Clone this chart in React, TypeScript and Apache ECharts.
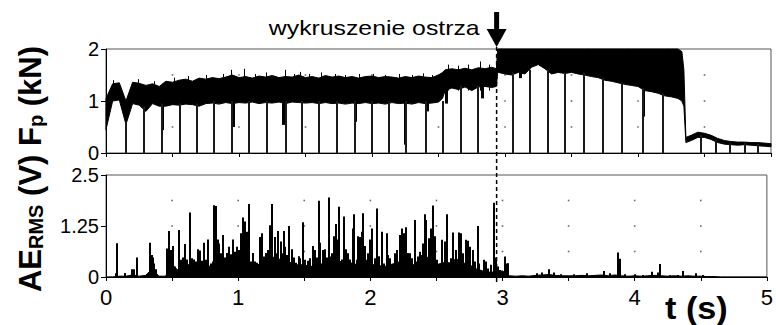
import React, { useEffect, useRef } from 'react';
import * as echarts from 'echarts';

const FONT = "'Liberation Sans', Arial, Helvetica, sans-serif";

// ---- axis ticks / grid dots ----
const dotT = [0.5, 1, 1.5, 2, 2.5, 3, 3.5, 4, 4.5];
const dotF = [0.5, 1, 1.5];
const dotAE = [0.625, 1.25, 1.875];

// ---- event ----
const EVENT_T = 2.937;
const EVENT_LABEL = 'wykruszenie ostrza';

// ---- cutting force Fp (kN): band envelope ----
const bandT = [
  0, 0.05, 0.1, 0.15, 0.2, 0.25, 0.3, 0.35, 0.4, 0.45,
  0.5, 0.55, 0.6, 0.65, 0.7, 0.75, 0.8, 0.85, 0.9, 0.95,
  1.0, 1.05, 1.1, 1.15, 1.2, 1.25, 1.3, 1.35, 1.4, 1.45,
  1.5, 1.55, 1.6, 1.65, 1.7, 1.75, 1.8, 1.85, 1.9, 1.95,
  2.0, 2.05, 2.1, 2.15, 2.2, 2.25, 2.3, 2.35, 2.4, 2.45,
  2.5, 2.53, 2.55, 2.6, 2.65, 2.7, 2.75, 2.8, 2.85, 2.9, 2.935,
  2.945, 2.95, 3.0, 3.05, 3.1, 3.15, 3.2, 3.25, 3.3, 3.35, 3.4, 3.45,
  3.5, 3.55, 3.6, 3.65, 3.7, 3.75, 3.8, 3.85, 3.9, 3.95,
  4.0, 4.05, 4.1, 4.15, 4.2, 4.25, 4.3, 4.33, 4.345, 4.36,
  4.4, 4.45, 4.5, 4.55, 4.6, 4.65, 4.7, 4.75, 4.8, 4.85, 4.9, 4.95, 5.0,
];
const bandLo = [
  0.45, 1.0, 1.02, 0.55, 0.95, 0.92, 0.8, 0.95, 0.9, 0.9,
  0.93, 0.92, 0.94, 0.93, 0.9, 0.95, 0.96, 0.94, 0.97, 0.95,
  0.97, 0.96, 0.98, 0.95, 0.97, 0.96, 0.98, 0.95, 0.98, 0.97,
  0.96, 0.97, 0.95, 0.97, 0.95, 0.96, 0.94, 0.96, 0.95, 0.97,
  0.95, 0.96, 0.94, 0.97, 0.95, 0.96, 0.94, 0.97, 0.95, 0.96,
  0.98, 1.05, 1.2, 1.25, 1.22, 1.27, 1.2, 1.27, 1.28, 1.26, 1.28,
  1.55, 1.55, 1.52, 1.5, 1.55, 1.52, 1.65, 1.7, 1.62, 1.52, 1.55, 1.53,
  1.55, 1.52, 1.5, 1.47, 1.45, 1.4, 1.38, 1.35, 1.32, 1.3,
  1.28, 1.2, 1.18, 1.15, 1.1, 1.08, 1.05, 1.0, 0.9, 0.2,
  0.24, 0.3, 0.3, 0.26, 0.2, 0.17, 0.16, 0.15, 0.16, 0.15, 0.14, 0.13, 0.12,
];
const bandHi = [
  1.05, 1.33, 1.35, 1.0, 1.36, 1.34, 1.3, 1.33, 1.28, 1.38,
  1.36, 1.4, 1.42, 1.38, 1.44, 1.42, 1.45, 1.43, 1.46, 1.5,
  1.45, 1.47, 1.44, 1.48, 1.46, 1.49, 1.45, 1.47, 1.46, 1.5,
  1.45, 1.47, 1.44, 1.49, 1.46, 1.48, 1.45, 1.47, 1.44, 1.47,
  1.48, 1.45, 1.47, 1.46, 1.44, 1.47, 1.45, 1.48, 1.46, 1.45,
  1.5, 1.55, 1.6, 1.62, 1.6, 1.63, 1.6, 1.64, 1.62, 1.65, 1.62,
  2.0, 2.0, 2.0, 2.0, 2.0, 2.0, 2.0, 2.0, 2.0, 2.0, 2.0, 2.0,
  2.0, 2.0, 2.0, 2.0, 2.0, 2.0, 2.0, 2.0, 2.0, 2.0,
  2.0, 2.0, 2.0, 2.0, 2.0, 2.0, 2.0, 1.95, 1.6, 0.3,
  0.34, 0.4, 0.38, 0.34, 0.28, 0.24, 0.22, 0.21, 0.21, 0.2, 0.2, 0.19, 0.18,
];

// ---- Fp noise peaks above the band ----
const fpPeakT = [
  0.055, 0.24, 0.36, 0.51, 0.62, 0.75, 0.88, 0.94, 1.04, 1.12,
  1.2, 1.346, 1.41, 1.458, 1.53, 1.614, 1.722, 1.8, 1.9, 2.01,
  2.1, 2.2, 2.3, 2.38, 2.45, 2.573, 2.65, 2.72, 2.81, 2.88,
];
const fpPeakV = [
  1.4, 1.42, 1.38, 1.45, 1.48, 1.5, 1.52, 1.6, 1.62, 1.52,
  1.55, 1.6, 1.52, 1.56, 1.52, 1.55, 1.52, 1.5, 1.52, 1.52,
  1.5, 1.52, 1.5, 1.53, 1.5, 1.7, 1.68, 1.7, 1.76, 1.7,
];
// ---- Fp deep notches below the band ----
const fpNotchT = [0.421, 0.957, 1.333, 1.872, 2.248, 2.41, 2.56, 2.83, 3.11, 4.04];
const fpNotchV = [0.44, 0.5, 0.54, 0.6, 0.16, 0.8, 0.95, 1.05, 1.44, 0.7];
const fpNotchFrom = [1.0, 1.0, 1.0, 1.0, 1.0, 1.0, 1.25, 1.3, 1.55, 1.3];

// ---- force drops (one per tool pass) ----
const dipT = [
  0.15, 0.286, 0.421, 0.556, 0.684,
  0.812, 0.947, 1.075, 1.211, 1.353,
  1.474, 1.602, 1.737, 1.872, 2.0,
  2.128, 2.256, 2.406, 2.534, 2.669,
  2.797, 3.06, 3.188, 3.323, 3.451,
  3.594, 3.737, 3.88, 4.038, 4.188,
  4.474, 4.586, 4.692, 4.805, 4.902,
];
const dipTop = [
  0.6, 0.9, 0.95, 0.95, 0.95,
  1.0, 1.0, 1.0, 1.0, 1.0,
  1.0, 1.0, 1.0, 1.0, 1.0,
  1.0, 1.0, 1.0, 1.0, 1.3,
  1.3, 1.55, 1.6, 1.6, 1.55,
  1.55, 1.45, 1.35, 1.25, 1.15,
  0.35, 0.25, 0.2, 0.2, 0.18,
];

// ---- AE RMS (V): dense base level ----
const aeBaseT = [
  0, 0.05, 0.1, 0.15, 0.2, 0.25, 0.3, 0.35, 0.4, 0.45,
  0.5, 0.55, 0.6, 0.65, 0.7, 0.75, 0.8, 0.85, 0.9, 0.95,
  1.0, 1.05, 1.1, 1.15, 1.2, 1.25, 1.3, 1.35, 1.4, 1.45,
  1.5, 1.55, 1.6, 1.65, 1.7, 1.75, 1.8, 1.85, 1.9, 1.95,
  2.0, 2.05, 2.1, 2.15, 2.2, 2.25, 2.3, 2.35, 2.4, 2.45,
  2.5, 2.55, 2.6, 2.65, 2.7, 2.75, 2.8, 2.85, 2.9, 2.95,
  3.0, 3.05, 3.1, 3.15, 3.2, 3.25, 3.3, 3.35, 3.4, 3.45,
  3.5, 3.55, 3.6, 3.65, 3.7, 3.75, 3.8, 3.85, 3.9, 3.95,
  4.0, 4.05, 4.1, 4.15, 4.2, 4.25, 4.3, 4.35, 4.4, 4.45,
  4.5, 4.55, 4.6, 4.65, 4.7, 4.75, 4.8, 4.85, 4.9, 4.95, 5.0,
];
const aeBaseV = [
  0, 0, 0.02, 0.02, 0.05, 0.02, 0.04, 0.2, 0.02, 0.02,
  0.3, 0.15, 0.3, 0.3, 0.22, 0.3, 0.25, 0.6, 0.4, 0.35,
  0.4, 0.45, 0.3, 0.3, 0.4, 0.5, 0.45, 0.4, 0.35, 0.3,
  0.3, 0.25, 0.35, 0.3, 0.35, 0.45, 0.3, 0.35, 0.3, 0.35,
  0.3, 0.3, 0.25, 0.3, 0.35, 0.4, 0.3, 0.3, 0.45, 0.5,
  0.3, 0.35, 0.35, 0.45, 0.35, 0.3, 0.2, 0.15, 0.12, 0.12,
  0.15, 0.03, 0.02, 0.03, 0.02, 0.04, 0.05, 0.06, 0.04, 0.03,
  0.03, 0.03, 0.04, 0.03, 0.04, 0.05, 0.03, 0.05, 0.03, 0.02,
  0.03, 0.02, 0.03, 0.04, 0.03, 0.02, 0.03, 0.02, 0.03, 0.02,
  0.02, 0.01, 0.01, 0, 0, 0, 0, 0, 0, 0, 0,
];

// ---- AE RMS (V): individual peaks ----
const aeT = [
  0.075, 0.085, 0.143, 0.193, 0.213, 0.238, 0.293, 0.318, 0.336, 0.346, 0.356, 0.366, 0.376,
  0.464, 0.476, 0.489, 0.506, 0.521, 0.551, 0.566, 0.581, 0.601, 0.616, 0.632, 0.649, 0.667,
  0.682, 0.697, 0.712, 0.727, 0.744, 0.759, 0.774, 0.792, 0.807, 0.82, 0.832, 0.845, 0.857,
  0.872, 0.887, 0.902, 0.917, 0.932, 0.947, 0.962, 0.977, 0.992, 1.008, 1.023, 1.033, 1.048,
  1.063, 1.083, 1.095, 1.113, 1.128, 1.145, 1.163, 1.183, 1.198, 1.208, 1.223, 1.238, 1.258,
  1.278, 1.291, 1.303, 1.321, 1.333, 1.346, 1.358, 1.373, 1.388, 1.404, 1.421, 1.439, 1.459,
  1.471, 1.489, 1.509, 1.529, 1.546, 1.564, 1.579, 1.594, 1.609, 1.622, 1.639, 1.654, 1.669,
  1.684, 1.697, 1.709, 1.722, 1.739, 1.754, 1.765, 1.784, 1.802, 1.815, 1.83, 1.847, 1.865,
  1.875, 1.897, 1.91, 1.923, 1.935, 1.947, 1.96, 1.972, 1.985, 1.997, 2.015, 2.035, 2.053,
  2.068, 2.085, 2.105, 2.123, 2.135, 2.148, 2.168, 2.185, 2.205, 2.223, 2.241, 2.256, 2.266,
  2.286, 2.298, 2.316, 2.336, 2.348, 2.361, 2.373, 2.386, 2.398, 2.411, 2.423, 2.441, 2.456,
  2.474, 2.486, 2.506, 2.524, 2.541, 2.561, 2.579, 2.599, 2.612, 2.629, 2.649, 2.667, 2.687,
  2.704, 2.724, 2.741, 2.757, 2.774, 2.792, 2.812, 2.825, 2.837, 2.862, 2.875, 2.892, 2.912,
  2.937, 2.95, 2.962, 2.982, 3.017, 3.033, 3.045,
  3.263, 3.301, 3.351, 3.389, 3.439, 3.539, 3.639, 3.764, 3.815, 3.87, 3.885, 3.927, 4.003,
  4.065, 4.128, 4.178, 4.195, 4.266, 4.328, 4.366, 4.466, 4.516,
];
const aeV = [
  0.09, 0.83, 0.1, 0.19, 0.19, 0.48, 0.05, 0.09, 0.84, 0.54, 0.48, 0.33, 0.19,
  0.7, 1.13, 0.66, 0.76, 0.26, 1.15, 0.42, 0.48, 0.81, 0.43, 1.58, 0.46, 0.43,
  0.38, 0.68, 0.65, 0.4, 0.84, 0.42, 0.92, 0.33, 0.38, 1.76, 1.74, 0.92, 0.82,
  0.58, 1.03, 0.48, 0.59, 0.74, 0.56, 0.92, 0.62, 0.74, 0.66, 1.07, 1.46, 1.36,
  1.11, 1.79, 0.38, 0.59, 0.38, 0.35, 0.98, 1.07, 0.5, 0.59, 0.66, 1.27, 1.79,
  0.98, 0.58, 1.13, 0.87, 0.58, 1.13, 0.74, 0.54, 1.25, 0.68, 0.48, 0.35, 0.51,
  0.46, 1.34, 0.42, 0.4, 0.46, 0.76, 0.66, 0.48, 1.87, 0.84, 0.66, 0.68, 0.48,
  1.95, 0.5, 0.58, 1.0, 1.3, 0.92, 1.72, 0.43, 1.48, 0.68, 0.58, 0.43, 1.19,
  1.54, 0.42, 1.0, 0.98, 1.11, 1.56, 0.76, 0.42, 0.58, 0.92, 1.19, 0.46, 1.68,
  0.51, 1.11, 0.33, 1.07, 0.54, 0.46, 0.26, 0.58, 0.66, 1.03, 1.19, 1.07, 1.22,
  0.59, 0.58, 0.46, 1.4, 0.38, 0.5, 0.62, 0.54, 0.82, 1.54, 1.4, 0.95, 1.19,
  1.75, 1.0, 0.42, 0.26, 0.91, 0.87, 1.54, 0.33, 0.46, 1.09, 0.66, 1.09, 1.07,
  0.58, 0.91, 0.89, 0.74, 0.66, 0.38, 1.25, 0.33, 0.17, 0.42, 0.38, 0.21, 0.3,
  1.82, 0.48, 0.26, 0.17, 0.5, 0.33, 0.34,
  0.09, 0.11, 0.19, 0.11, 0.07, 0.07, 0.09, 0.15, 0.09, 0.6, 0.45, 0.07, 0.07,
  0.05, 0.13, 0.11, 0.32, 0.04, 0.05, 0.15, 0.09, 0.05,
];

const labelText = { color: '#000', fontFamily: FONT };

// vertical segment at t=value(0), from value(1) to value(2), snapped to whole pixels
function vline(stroke: string, width: number) {
  return (_p: any, api: any) => {
    const t = api.value(0);
    const a = api.coord([t, api.value(1)]);
    const b = api.coord([t, api.value(2)]);
    const x = width % 2 === 1 ? Math.round(a[0]) + 0.5 : Math.round(a[0]);
    return {
      type: 'line',
      shape: { x1: x, y1: a[1], x2: x, y2: b[1] },
      style: { stroke, lineWidth: width },
    };
  };
}

function buildOption() {
  const dotsTop: number[][] = [];
  dotT.forEach((t) => dotF.forEach((v) => dotsTop.push([t, v])));
  const dotsBot: number[][] = [];
  dotT.forEach((t) => dotAE.forEach((v) => dotsBot.push([t, v])));

  const xBase = {
    type: 'value',
    min: 0,
    max: 5,
    interval: 0.5,
    axisLine: { show: true, lineStyle: { color: '#000', width: 1 } },
    axisTick: { show: true, length: 4, lineStyle: { color: '#000' } },
    splitLine: { show: false },
  };
  const yBase = {
    type: 'value',
    min: 0,
    axisLine: { show: true, lineStyle: { color: '#000', width: 1 } },
    axisTick: { show: true, length: 5, lineStyle: { color: '#000' } },
    splitLine: { show: false },
    axisLabel: { ...labelText, fontSize: 20, margin: 7 },
  };

  return {
    animation: false,
    backgroundColor: '#fff',
    grid: [
      { left: 106, right: 5, top: 49, height: 104, show: true, borderColor: '#555', borderWidth: 1 },
      { left: 106, right: 5, top: 175, height: 102, show: true, borderColor: '#555', borderWidth: 1 },
    ],
    xAxis: [
      { ...xBase, gridIndex: 0, axisLabel: { show: false } },
      {
        ...xBase,
        gridIndex: 1,
        axisLabel: {
          ...labelText,
          fontSize: 22,
          margin: 9,
          formatter: (v: number) => (Number.isInteger(v) ? String(v) : ''),
        },
      },
    ],
    yAxis: [
      { ...yBase, gridIndex: 0, max: 2, interval: 1 },
      { ...yBase, gridIndex: 1, max: 2.5, interval: 1.25 },
    ],
    series: [
      {
        type: 'scatter', xAxisIndex: 0, yAxisIndex: 0, data: dotsTop,
        symbol: 'rect', symbolSize: 1.6, itemStyle: { color: '#444' }, z: 1, silent: true,
      },
      {
        type: 'scatter', xAxisIndex: 1, yAxisIndex: 1, data: dotsBot,
        symbol: 'rect', symbolSize: 1.6, itemStyle: { color: '#444' }, z: 1, silent: true,
      },
      {
        name: 'Fp', type: 'custom', xAxisIndex: 0, yAxisIndex: 0,
        data: bandT.map((t, i) => [t, bandLo[i], bandHi[i]]),
        encode: { x: 0, y: [1, 2] },
        renderItem: (params: any, api: any) => {
          if (params.dataIndex !== 0) return null;
          const pts: number[][] = [];
          for (let j = 0; j < bandT.length; j++) pts.push(api.coord([bandT[j], bandHi[j]]));
          for (let j = bandT.length - 1; j >= 0; j--) pts.push(api.coord([bandT[j], bandLo[j]]));
          return {
            type: 'polygon',
            shape: { points: pts },
            style: { fill: '#000', stroke: '#000', lineWidth: 1 },
          };
        },
        z: 3,
      },
      {
        type: 'custom', xAxisIndex: 0, yAxisIndex: 0,
        data: fpPeakT.map((t, i) => [t, 1.2, fpPeakV[i]]),
        encode: { x: 0, y: [1, 2] },
        renderItem: vline('#000', 1),
        z: 4,
      },
      {
        type: 'custom', xAxisIndex: 0, yAxisIndex: 0,
        data: fpNotchT.map((t, i) => [t, fpNotchFrom[i], fpNotchV[i]]),
        encode: { x: 0, y: [1, 2] },
        renderItem: vline('#000', 3),
        z: 4,
      },
      {
        type: 'custom', xAxisIndex: 0, yAxisIndex: 0,
        data: dipT.map((t, i) => [t, 0, dipTop[i]]),
        encode: { x: 0, y: [1, 2] },
        renderItem: vline('#1a1a1a', 2),
        z: 4,
      },
      {
        type: 'line', xAxisIndex: 1, yAxisIndex: 1,
        data: aeBaseT.map((t, i) => [t, aeBaseV[i]]),
        symbol: 'none', lineStyle: { width: 1, color: '#000' },
        areaStyle: { color: '#000', opacity: 1 }, z: 2,
      },
      {
        type: 'custom', xAxisIndex: 1, yAxisIndex: 1,
        data: aeT.map((t, i) => [t, 0, aeV[i]]),
        encode: { x: 0, y: [1, 2] },
        renderItem: vline('#000', 2),
        z: 3,
      },
    ],
  };
}

export default function App() {
  const ref = useRef<HTMLDivElement>(null);
  useEffect(() => {
    if (!ref.current) return;
    const chart = echarts.init(ref.current, null, { renderer: 'svg' });
    chart.setOption(buildOption() as any);
    const px = chart.convertToPixel({ xAxisIndex: 0 }, EVENT_T) as number;
    chart.setOption({
      graphic: [
        {
          type: 'text', x: px - 17, y: 28, scaleX: 1.24,
          style: {
            text: EVENT_LABEL, fontSize: 20, fontFamily: FONT, fill: '#000',
            align: 'right', verticalAlign: 'middle', textAlign: 'right', textVerticalAlign: 'middle',
          },
        },
        { type: 'rect', shape: { x: px - 2.5, y: 12, width: 5, height: 19 }, style: { fill: '#000' } },
        { type: 'polygon', shape: { points: [[px - 10, 29], [px + 10, 29], [px, 47]] }, style: { fill: '#000' } },
        {
          type: 'line', shape: { x1: px, y1: 47, x2: px, y2: 285 },
          style: { stroke: '#000', lineWidth: 1.5, lineDash: [4, 3] }, z: 50,
        },
        {
          type: 'text', x: 665, y: 308, scaleX: 1.07,
          style: {
            text: 't (s)', fontSize: 32, fontWeight: 'bold', fontFamily: FONT, fill: '#000',
            align: 'left', verticalAlign: 'middle', textAlign: 'left', textVerticalAlign: 'middle',
          },
        },
        {
          type: 'text', x: 30, y: 169, rotation: Math.PI / 2,
          style: {
            text: '{m|AE}{s|RMS}{m| (V) F}{s|p}{m| (kN)}',
            fill: '#000',
            align: 'center', verticalAlign: 'middle', textAlign: 'center', textVerticalAlign: 'middle',
            rich: {
              m: { fontSize: 31, fontWeight: 'bold', fontFamily: FONT, fill: '#000', verticalAlign: 'bottom' },
              s: { fontSize: 20, fontWeight: 'bold', fontFamily: FONT, fill: '#000', verticalAlign: 'bottom' },
            },
          },
        },
      ],
    });
    return () => chart.dispose();
  }, []);
  return <div ref={ref} style={{ position: 'fixed', left: 0, top: 0, width: 776, height: 325 }} />;
}
